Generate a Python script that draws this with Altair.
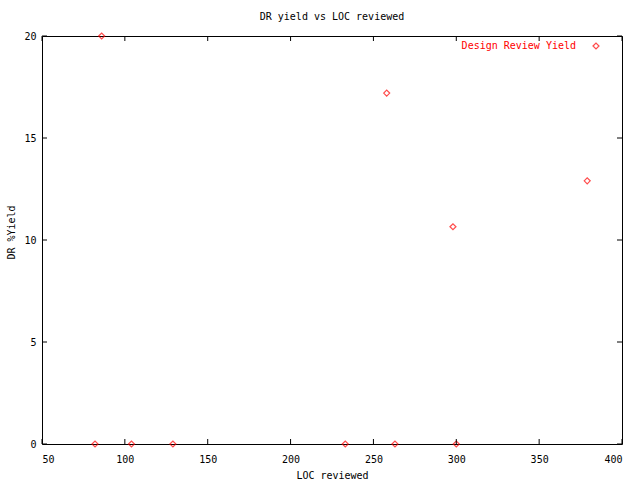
import altair as alt
import pandas as pd

# data
loc_reviewed = [86, 258, 298, 379, 82, 104, 129, 233, 263, 300]
dr_yield = [20.0, 17.2, 10.65, 12.9, 0, 0, 0, 0, 0, 0]
x_ticks = [50, 100, 150, 200, 250, 300, 350, 400]
y_ticks = [0, 5, 10, 15, 20]
series_name = "Design Review Yield"

W, H = 580, 408
FONT = "DejaVu Sans Mono"
RED = "#ff0000"

df = pd.DataFrame({"loc": loc_reviewed, "yield": dr_yield})
xt = pd.DataFrame({"v": x_ticks})
yt = pd.DataFrame({"v": y_ticks})

xscale = alt.Scale(domain=[50, 400], nice=False, zero=False)
yscale = alt.Scale(domain=[0, 20], nice=False)

xaxis = alt.Axis(values=x_ticks, tickSize=0, labelPadding=10, grid=False,
                 domain=False, titlePadding=6)
yaxis = alt.Axis(values=y_ticks, tickSize=0, labelPadding=6, grid=False,
                 domain=False, titleX=-26, titleY=196)

points = alt.Chart(df).mark_point(
    shape="diamond", filled=False, color=RED, size=36, strokeWidth=1.2, clip=False
).encode(
    x=alt.X("loc:Q", scale=xscale, title="LOC reviewed", axis=xaxis),
    y=alt.Y("yield:Q", scale=yscale, title="DR %Yield", axis=yaxis),
)

tick_len = 5
xb = alt.Chart(xt).mark_rule(color="black", strokeWidth=1).encode(
    x=alt.X("v:Q", scale=xscale, title="LOC reviewed", axis=xaxis),
    y=alt.value(H), y2=alt.value(H - tick_len))
xtp = alt.Chart(xt).mark_rule(color="black", strokeWidth=1).encode(
    x=alt.X("v:Q", scale=xscale, title="LOC reviewed", axis=xaxis),
    y=alt.value(0), y2=alt.value(tick_len))
yl = alt.Chart(yt).mark_rule(color="black", strokeWidth=1).encode(
    y=alt.Y("v:Q", scale=yscale, title="DR %Yield", axis=yaxis),
    x=alt.value(0), x2=alt.value(tick_len))
yr = alt.Chart(yt).mark_rule(color="black", strokeWidth=1).encode(
    y=alt.Y("v:Q", scale=yscale, title="DR %Yield", axis=yaxis),
    x=alt.value(W), x2=alt.value(W - tick_len))

legend_text = alt.Chart(pd.DataFrame({"s": [series_name]})).mark_text(
    align="right", baseline="middle", color=RED, font=FONT, fontSize=10
).encode(text="s:N", x=alt.value(534), y=alt.value(10))
legend_pt = alt.Chart(pd.DataFrame({"s": [series_name]})).mark_point(
    shape="diamond", filled=False, color=RED, size=36, strokeWidth=1.2
).encode(x=alt.value(554), y=alt.value(10))

chart = alt.layer(points, xb, xtp, yl, yr, legend_text, legend_pt).properties(
    width=W, height=H,
    background="white",
    title=alt.TitleParams("DR yield vs LOC reviewed", font=FONT, fontSize=10,
                          fontWeight="normal", anchor="middle", offset=9, color="black"),
    autosize=alt.AutoSizeParams(type="none"),
    padding={"left": 42, "top": 36, "right": 18, "bottom": 36},
).configure_view(stroke="black", strokeWidth=1, strokeOpacity=1).configure_axis(
    labelFont=FONT, labelFontSize=10, labelColor="black",
    titleFont=FONT, titleFontSize=10, titleFontWeight="normal", titleColor="black",
)

chart.save("out.html", embed_options={"renderer": "svg", "actions": False})
